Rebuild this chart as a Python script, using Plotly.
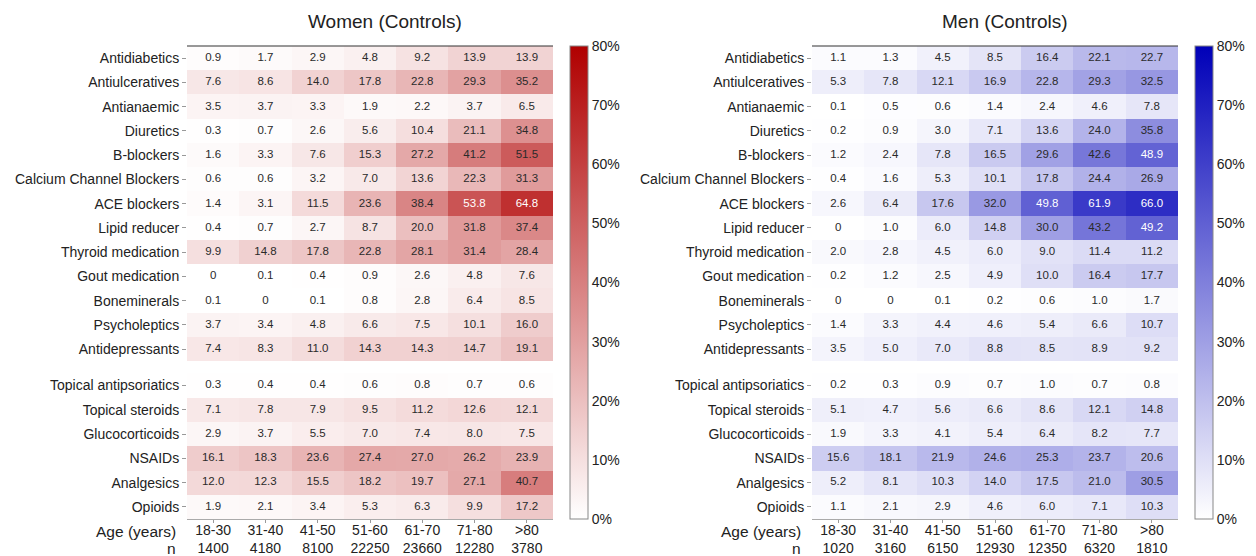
import plotly.graph_objects as go

drugs_top = ["Antidiabetics", "Antiulceratives", "Antianaemic", "Diuretics", "B-blockers",
             "Calcium Channel Blockers", "ACE blockers", "Lipid reducer", "Thyroid medication",
             "Gout medication", "Boneminerals", "Psycholeptics", "Antidepressants"]
drugs_bottom = ["Topical antipsoriatics", "Topical steroids", "Glucocorticoids", "NSAIDs",
                "Analgesics", "Opioids"]
ages = ["18-30", "31-40", "41-50", "51-60", "61-70", "71-80", ">80"]
n_women = [1400, 4180, 8100, 22250, 23660, 12280, 3780]
n_men = [1020, 3160, 6150, 12930, 12350, 6320, 1810]

women_top = [
    [0.9, 1.7, 2.9, 4.8, 9.2, 13.9, 13.9],
    [7.6, 8.6, 14.0, 17.8, 22.8, 29.3, 35.2],
    [3.5, 3.7, 3.3, 1.9, 2.2, 3.7, 6.5],
    [0.3, 0.7, 2.6, 5.6, 10.4, 21.1, 34.8],
    [1.6, 3.3, 7.6, 15.3, 27.2, 41.2, 51.5],
    [0.6, 0.6, 3.2, 7.0, 13.6, 22.3, 31.3],
    [1.4, 3.1, 11.5, 23.6, 38.4, 53.8, 64.8],
    [0.4, 0.7, 2.7, 8.7, 20.0, 31.8, 37.4],
    [9.9, 14.8, 17.8, 22.8, 28.1, 31.4, 28.4],
    [0, 0.1, 0.4, 0.9, 2.6, 4.8, 7.6],
    [0.1, 0, 0.1, 0.8, 2.8, 6.4, 8.5],
    [3.7, 3.4, 4.8, 6.6, 7.5, 10.1, 16.0],
    [7.4, 8.3, 11.0, 14.3, 14.3, 14.7, 19.1],
]
women_bottom = [
    [0.3, 0.4, 0.4, 0.6, 0.8, 0.7, 0.6],
    [7.1, 7.8, 7.9, 9.5, 11.2, 12.6, 12.1],
    [2.9, 3.7, 5.5, 7.0, 7.4, 8.0, 7.5],
    [16.1, 18.3, 23.6, 27.4, 27.0, 26.2, 23.9],
    [12.0, 12.3, 15.5, 18.2, 19.7, 27.1, 40.7],
    [1.9, 2.1, 3.4, 5.3, 6.3, 9.9, 17.2],
]
men_top = [
    [1.1, 1.3, 4.5, 8.5, 16.4, 22.1, 22.7],
    [5.3, 7.8, 12.1, 16.9, 22.8, 29.3, 32.5],
    [0.1, 0.5, 0.6, 1.4, 2.4, 4.6, 7.8],
    [0.2, 0.9, 3.0, 7.1, 13.6, 24.0, 35.8],
    [1.2, 2.4, 7.8, 16.5, 29.6, 42.6, 48.9],
    [0.4, 1.6, 5.3, 10.1, 17.8, 24.4, 26.9],
    [2.6, 6.4, 17.6, 32.0, 49.8, 61.9, 66.0],
    [0, 1.0, 6.0, 14.8, 30.0, 43.2, 49.2],
    [2.0, 2.8, 4.5, 6.0, 9.0, 11.4, 11.2],
    [0.2, 1.2, 2.5, 4.9, 10.0, 16.4, 17.7],
    [0, 0, 0.1, 0.2, 0.6, 1.0, 1.7],
    [1.4, 3.3, 4.4, 4.6, 5.4, 6.6, 10.7],
    [3.5, 5.0, 7.0, 8.8, 8.5, 8.9, 9.2],
]
men_bottom = [
    [0.2, 0.3, 0.9, 0.7, 1.0, 0.7, 0.8],
    [5.1, 4.7, 5.6, 6.6, 8.6, 12.1, 14.8],
    [1.9, 3.3, 4.1, 5.4, 6.4, 8.2, 7.7],
    [15.6, 18.1, 21.9, 24.6, 25.3, 23.7, 20.6],
    [5.2, 8.1, 10.3, 14.0, 17.5, 21.0, 30.5],
    [1.1, 2.1, 2.9, 4.6, 6.0, 7.1, 10.3],
]
cbar_ticks = [0, 10, 20, 30, 40, 50, 60, 70, 80]

W, H = 1256, 556
FONT = "Arial, Liberation Sans, sans-serif"
RED = (176, 0, 0)
BLUE = (0, 0, 184)

y_top = list(range(len(drugs_top)))
y_bottom = [len(drugs_top) + 0.5 + i for i in range(len(drugs_bottom))]
y_all = y_top + y_bottom
labels_all = drugs_top + drugs_bottom


def fmt(v):
    return "0" if v == 0 else f"{v:.1f}"


def cell_color(v, rgb):
    t = min(max(v / 80.0, 0), 1)
    return tuple(255 + (c - 255) * t for c in rgb)


def txt_color(v, rgb):
    r, g, b = cell_color(v, rgb)
    lum = 0.2126 * r + 0.7152 * g + 0.0722 * b
    return "white" if lum < 112 else "#2a2a2a"


fig = go.Figure()

panels = [
    dict(top=women_top, bottom=women_bottom, n=n_women, rgb=RED, xa="x", ya="y",
         ca="coloraxis", dom=(187, 553), title="Women (Controls)", tx=385),
    dict(top=men_top, bottom=men_bottom, n=n_men, rgb=BLUE, xa="x2", ya="y2",
         ca="coloraxis2", dom=(812, 1178), title="Men (Controls)", tx=1005),
]

top_px, bot_px = 46, 519
ydom = [1 - bot_px / H, 1 - top_px / H]

for i, p in enumerate(panels):
    for z, ys in ((p["top"], y_top), (p["bottom"], y_bottom)):
        fig.add_trace(go.Heatmap(
            z=z, x=list(range(len(ages))), y=ys, coloraxis=p["ca"],
            xaxis=p["xa"], yaxis=p["ya"], hoverinfo="skip", xgap=0, ygap=0))
    xs, yv, tt, cc = [], [], [], []
    for z, ys in ((p["top"], y_top), (p["bottom"], y_bottom)):
        for r, row in enumerate(z):
            for c, v in enumerate(row):
                xs.append(c)
                yv.append(ys[r])
                tt.append(fmt(v))
                cc.append(txt_color(v, p["rgb"]))
    fig.add_trace(go.Scatter(
        x=xs, y=yv, text=tt, mode="text", xaxis=p["xa"], yaxis=p["ya"],
        textfont=dict(family=FONT, size=11.5, color=cc), hoverinfo="skip", showlegend=False))

    suffix = "" if i == 0 else "2"
    d0, d1 = p["dom"]
    fig.update_layout(**{
        "xaxis" + suffix: dict(
            domain=[d0 / W, d1 / W], range=[-0.5, len(ages) - 0.5],
            tickvals=list(range(len(ages))),
            ticktext=[f"{a}<br>{n}" for a, n in zip(ages, p["n"])],
            tickfont=dict(family=FONT, size=14, color="#222"),
            ticks="outside", ticklen=3, tickcolor="#999", showline=True,
            linecolor="#aaa", linewidth=1, showgrid=False, zeroline=False,
            anchor="y" + suffix, fixedrange=True, automargin=False,
            ticklabelstandoff=-5),
        "yaxis" + suffix: dict(
            domain=ydom, range=[y_bottom[-1] + 0.5, -0.5],
            tickvals=y_all, ticktext=labels_all,
            tickfont=dict(family=FONT, size=14, color="#222"),
            ticks="outside", ticklen=4, tickcolor="#999", showline=False,
            showgrid=False, zeroline=False, anchor="x" + suffix, fixedrange=True,
            automargin=False),
        p["ca"]: dict(
            cmin=0, cmax=80,
            colorscale=[[0, "rgb(255,255,255)"], [1, "rgb(%d,%d,%d)" % p["rgb"]]],
            colorbar=dict(
                x=(d1 + 17) / W, xanchor="left", y=ydom[0], yanchor="bottom",
                len=bot_px - top_px, lenmode="pixels", thickness=18,
                thicknessmode="pixels", outlinewidth=1, outlinecolor="#888",
                tickvals=cbar_ticks, ticktext=[f"{t}%" for t in cbar_ticks],
                tickfont=dict(family=FONT, size=14, color="#222"),
                ticks="", xpad=0, ypad=0)),
    })
    fig.add_shape(type="line", xref=p["xa"] + " domain", yref=p["ya"] + " domain",
                  x0=0, x1=1, y0=1, y1=1, line=dict(color="#333", width=1.2))
    fig.add_annotation(text=p["title"], xref="paper", yref="paper", x=p["tx"] / W,
                       y=1 - 22 / H, showarrow=False, xanchor="center", yanchor="middle",
                       font=dict(family=FONT, size=19, color="#222"))
    fig.add_annotation(text="Age (years)", xref="paper", yref="paper", x=(d0 - 9) / W,
                       y=1 - 531 / H, showarrow=False, xanchor="right", yanchor="middle",
                       font=dict(family=FONT, size=15.5, color="#222"))
    fig.add_annotation(text="n", xref="paper", yref="paper", x=(d0 - 9) / W,
                       y=1 - 548 / H, showarrow=False, xanchor="right", yanchor="middle",
                       font=dict(family=FONT, size=15.5, color="#222"))

fig.update_layout(width=W, height=H, margin=dict(l=0, r=0, t=0, b=0),
                  plot_bgcolor="white", paper_bgcolor="white", showlegend=False,
                  font=dict(family=FONT))
fig.write_html("out.html", config={"displayModeBar": False},
               post_script="document.body.style.margin='0';document.body.style.overflow='hidden';")
